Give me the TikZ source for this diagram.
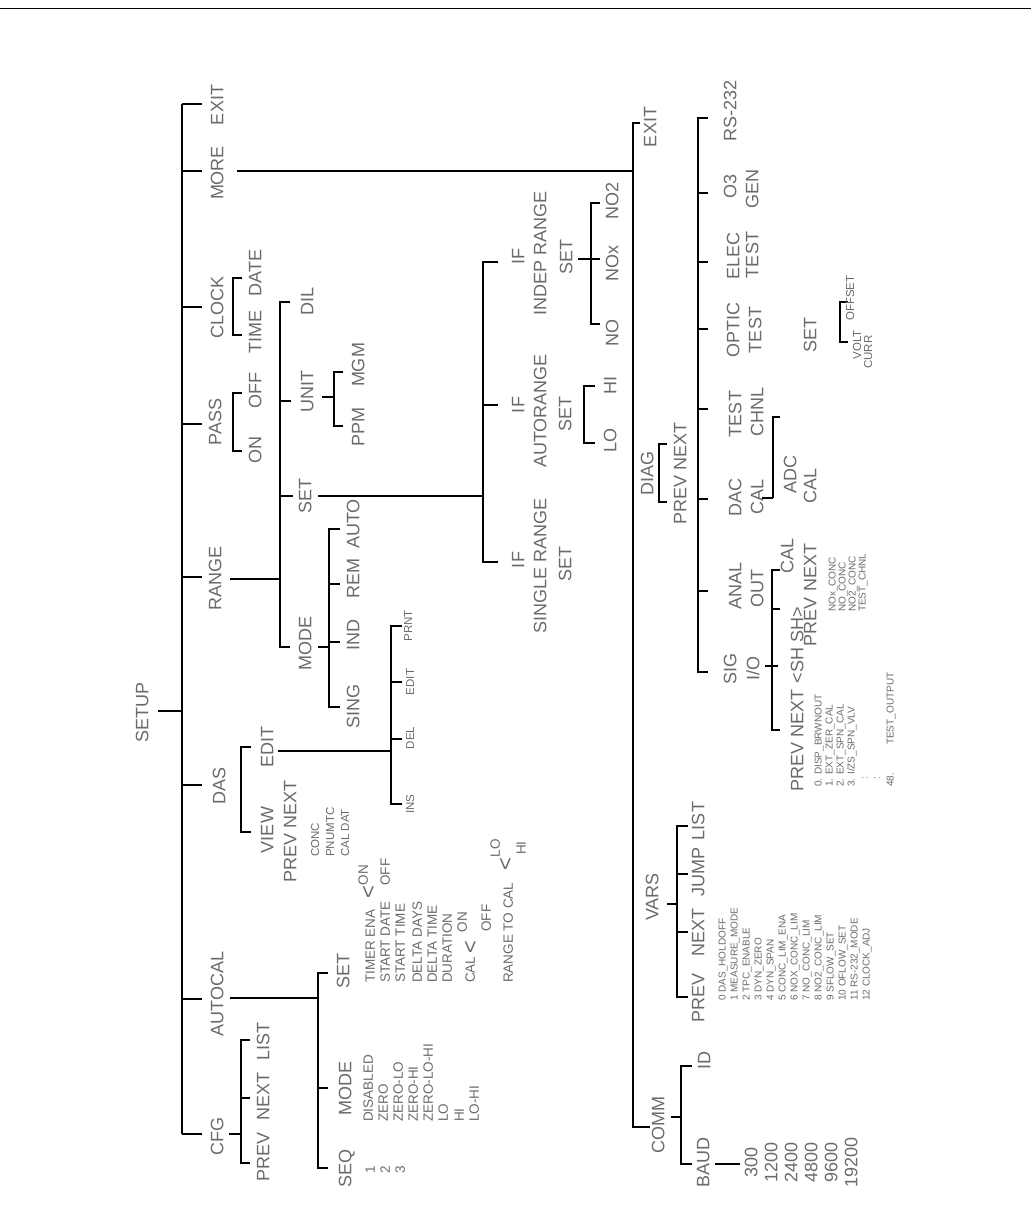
\documentclass[tikz,border=0pt]{standalone}
\usepackage{fontspec}
\setmainfont{Liberation Sans}
\definecolor{tgray}{gray}{0.42}
\begin{document}
\begin{tikzpicture}[x=1pt,y=-1pt,
  lab/.style={rotate=90, inner sep=0pt, text=tgray, font=\fontsize{18}{18}\selectfont, text height=12.9pt, text depth=0pt},
  med/.style={lab, font=\fontsize{13.5}{13.5}\selectfont, text height=9.7pt},
  sml/.style={lab, font=\fontsize{11.5}{11.5}\selectfont, text height=8.2pt},
  tny/.style={lab, font=\fontsize{10}{10}\selectfont, text height=7.2pt},
  chev/.style={lab, font=\fontsize{22}{22}\selectfont, text height=11pt},
  ln/.style={line width=1.3pt, black}]
\useasboundingbox (0,0) rectangle (1031,1225);
\fill[white] (0,0) rectangle (1031,1225);
\draw[line width=0.8pt] (0,8) -- (1031,8);
% ---------------- main trunk
\node[lab] (setup) at (142,712) {SETUP};
\coordinate (ttop) at (182,104);
\coordinate (tbot) at (182,1134);
\draw[ln] (ttop) -- (tbot);
\draw[ln] (158,711) -- (182,711);
\foreach \y in {104,171,307,424,577,785,999,1134} \draw[ln] (182,\y) -- (202,\y);
\node[lab] (exit) at (217,105) {EXIT};
\node[lab] (more) at (217,173) {MORE};
\node[lab] (clock) at (217,307) {CLOCK};
\node[lab] (pass) at (215,422) {PASS};
\node[lab] (range) at (215,578) {RANGE};
\node[lab] (das) at (219,786) {DAS};
\node[lab] (autocal) at (217,994) {AUTOCAL};
\node[lab] (cfg) at (217,1136) {CFG};
% ---------------- CFG
\draw[ln] (229,1134) -- (241,1134);
\draw[ln] (250,1040) -- (241,1040) -- (241,1163) -- (250,1163);
\draw[ln] (241,1098) -- (250,1098);
\node[lab] (cfgprev) at (263,1157) {PREV};
\node[lab] (cfgnext) at (263,1096) {NEXT};
\node[lab] (cfglist) at (263,1041) {LIST};
% ---------------- CLOCK / PASS
\draw[ln] (242,278) -- (233,278) -- (233,335) -- (242,335);
\node[lab] (date) at (255,273) {DATE};
\node[lab] (time) at (255,332) {TIME};
\draw[ln] (242,393) -- (233,393) -- (233,451) -- (242,451);
\node[lab] (off) at (255,391) {OFF};
\node[lab] (on) at (255,450) {ON};
% ---------------- RANGE
\draw[ln] (230,579) -- (280,579);
\draw[ln] (290,302) -- (280,302) -- (280,647) -- (290,647);
\draw[ln] (280,401) -- (291,401);
\draw[ln] (280,496) -- (293,496);
\node[lab] (dil) at (307,301) {DIL};
\node[lab] (unit) at (307,391) {UNIT};
\node[lab] (rset) at (305,496) {SET};
\node[lab] (mode) at (305,643) {MODE};
\draw[ln] (322,397) -- (334,397);
\draw[ln] (343,372) -- (334,372) -- (334,426) -- (343,426);
\node[lab] (mgm) at (358,365) {MGM};
\node[lab] (ppm) at (358,427) {PPM};
\draw[ln] (318,647) -- (329,647);
\draw[ln] (340,529) -- (329,529) -- (329,707) -- (340,707);
\draw[ln] (329,584) -- (340,584);
\draw[ln] (329,642) -- (340,642);
\node[lab] (auto) at (353,524) {AUTO};
\node[lab] (rem) at (353,578) {REM};
\node[lab] (ind) at (353,635) {IND};
\node[lab] (sing) at (353,706) {SING};
\draw[ln] (318,496) -- (483,496);
\draw[ln] (498,262) -- (483,262) -- (483,562) -- (498,562);
\draw[ln] (483,405) -- (498,405);
\node[lab] (if1) at (518,257) {IF};
\node[lab] (indep) at (540,253) {INDEP RANGE};
\node[lab] (set1) at (566,257) {SET};
\node[lab] (if2) at (518,405) {IF};
\node[lab] (autor) at (540,411) {AUTORANGE};
\node[lab] (set2) at (565,414) {SET};
\node[lab] (if3) at (518,560) {IF};
\node[lab] (single) at (540,566) {SINGLE RANGE};
\node[lab] (set3) at (565,564) {SET};
\draw[ln] (578,259) -- (600,259);
\draw[ln] (600,203) -- (591,203) -- (591,324) -- (600,324);
\node[lab] (no2) at (612,201) {NO2};
\node[lab] (nox) at (612,263) {NOx};
\node[lab] (no) at (612,333) {NO};
\draw[ln] (595,386) -- (584,386) -- (584,443) -- (595,443);
\node[lab] (hi) at (610,385) {HI};
\node[lab] (lo) at (610,440) {LO};
% ---------------- DAS
\draw[ln] (251,747) -- (241,747) -- (241,832) -- (251,832);
\node[lab] (edit) at (267,747) {EDIT};
\node[lab] (view) at (267,830) {VIEW};
\node[lab] (dprevnext) at (290,831) {PREV NEXT};
\node[sml,anchor=west] (conc) at (315,857) {CONC};
\node[sml,anchor=west] (pnumtc) at (330,857) {PNUMTC};
\node[sml,anchor=west] (caldat) at (345,857) {CAL DAT};
\draw[ln] (278,751) -- (391,751);
\draw[ln] (402,626) -- (391,626) -- (391,804) -- (402,804);
\draw[ln] (391,682) -- (402,682);
\draw[ln] (391,739) -- (402,739);
\node[sml] (prnt) at (408,626) {PRNT};
\node[sml] (edit2) at (410,682) {EDIT};
\node[sml] (del) at (410,738) {DEL};
\node[sml] (ins) at (410,804) {INS};
% ---------------- AUTOCAL
\draw[ln] (230,998) -- (318,998);
\draw[ln] (328,973) -- (318,973) -- (318,1168) -- (328,1168);
\draw[ln] (318,1088) -- (328,1088);
\node[lab] (aset) at (343,971) {SET};
\node[lab] (amode) at (345,1088) {MODE};
\node[lab] (seq) at (345,1168) {SEQ};
\foreach \x/\t [count=\i] in {370/1,385/2,400/3} \node[med,anchor=west] (sq\i) at (\x,1174) {\t};
\foreach \x/\t [count=\i] in {368/DISABLED,383/ZERO,398/ZERO-LO,413/ZERO-HI,428/ZERO-LO-HI,443/LO,459/HI,474/LO-HI}
  \node[med,anchor=west] (md\i) at (\x,1122) {\t};
\foreach \x/\t [count=\i] in {370/TIMER ENA,385/START DATE,400/START TIME,417/DELTA DAYS,432/DELTA TIME,447/DURATION}
  \node[med,anchor=west] (st\i) at (\x,983) {\t};
\node[chev] (lt1) at (370,892) {<};
\node[med] (son) at (363,875) {ON};
\node[med] (soff) at (385,872) {OFF};
\node[med,anchor=west] (scal) at (470,983) {CAL};
\node[chev] (lt2) at (472,947) {<};
\node[med] (con) at (462,922) {ON};
\node[med] (coff) at (486,918) {OFF};
\node[med,anchor=west] (rtc) at (508,983) {RANGE TO CAL};
\node[chev] (lt3) at (507,864) {<};
\node[med] (rlo) at (495,848) {LO};
\node[med] (rhi) at (521,848) {HI};
% ---------------- MORE
\draw[ln] (237,171) -- (633,171);
\draw[ln] (640,123) -- (633,123) -- (633,1127) -- (650,1127);
\node[lab] (exit2) at (650,127) {EXIT};
% DIAG
\node[lab] (diag) at (647,473) {DIAG};
\draw[ln] (667,444) -- (659,444) -- (659,502) -- (667,502);
\node[lab] (diagpn) at (680,473) {PREV NEXT};
\draw[ln] (708,118) -- (698,118) -- (698,672) -- (708,672);
\foreach \y in {193,262,329,409,499,591} \draw[ln] (698,\y) -- (708,\y);
\node[lab] (rs) at (730,111) {RS-232};
\node[lab] (o3) at (730,186) {O3};
\node[lab] (gen) at (752,189) {GEN};
\node[lab] (elec) at (733,256) {ELEC};
\node[lab] (test1) at (752,255) {TEST};
\node[lab] (optic) at (733,330) {OPTIC};
\node[lab] (test2) at (755,330) {TEST};
\node[lab] (test3) at (735,414) {TEST};
\node[lab] (chnl) at (757,412) {CHNL};
\node[lab] (dac) at (735,497) {DAC};
\node[lab] (cal1) at (757,497) {CAL};
\node[lab] (anal) at (735,586) {ANAL};
\node[lab] (out) at (757,588) {OUT};
\node[lab] (sig) at (730,669) {SIG};
\node[lab] (io) at (753,668) {I/O};
% DAC CAL sub
\draw[ln] (762,498) -- (773,498);
\draw[ln] (780,417) -- (773,417) -- (773,498);
\node[lab] (adc) at (790,474) {ADC};
\node[lab] (cal2) at (787,556) {CAL};
\node[lab] (cprev) at (810,622) {PREV};
\node[lab] (cnext) at (810,567) {NEXT};
\node[lab] (ccal) at (810,486) {CAL};
\node[lab] (cset) at (810,335) {SET};
\draw[ln] (848,302) -- (840,302) -- (840,342) -- (848,342);
\node[sml] (offset) at (850,298) {OFFSET};
\node[sml] (volt) at (857,345) {VOLT};
\node[sml] (curr) at (868,352) {CURR};
\node[tny,anchor=west] (l1) at (832,612) {NOx\_CONC};
\node[tny,anchor=west] (l2) at (842,612) {NO\_CONC};
\node[tny,anchor=west] (l3) at (852,612) {NO2\_CONC};
\node[tny,anchor=west] (l4) at (862,612) {TEST\_CHNL};
% SIG I/O sub
\draw[ln] (765,666) -- (778,666);
\draw[ln] (780,570) -- (772,570) -- (772,730) -- (780,730);
\draw[ln] (772,609) -- (780,609);
\node[lab] (spn) at (797,740) {PREV NEXT};
\node[lab] (ssh) at (797,645) {<SH SH>};
\node[tny,anchor=west] (s0) at (818,787) {0. DISP\_BRWNOUT};
\node[tny,anchor=west] (s1) at (829,787) {1. EXT\_ZER\_CAL};
\node[tny,anchor=west] (s2) at (840,787) {2. EXT\_SPN\_CAL};
\node[tny,anchor=west] (s3) at (851,787) {3. I/ZS\_SPN\_VLV};
\node[tny,anchor=west] (s4) at (864,780) {:};
\node[tny,anchor=west] (s5) at (876,780) {:};
\node[tny,anchor=west] (s48) at (890,787) {48.};
\node[tny,anchor=west] (s48b) at (890,745) {TEST\_OUTPUT};
% VARS
\node[lab] (vars) at (652,897) {VARS};
\draw[ln] (667,904) -- (677,904);
\draw[ln] (688,826) -- (677,826) -- (677,997) -- (688,997);
\draw[ln] (677,874) -- (688,874);
\draw[ln] (677,932) -- (688,932);
\node[lab] (vprev) at (698,998) {PREV};
\node[lab] (vnext) at (698,932) {NEXT};
\node[lab] (jump) at (698,872) {JUMP};
\node[lab] (vlist) at (698,821) {LIST};
\foreach \t [count=\i from 0] in {0 DAS\_HOLDOFF,1 MEASURE\_MODE,2 TPC\_ENABLE,3 DYN\_ZERO,4 DYN\_SPAN,5 CONC\_LIM\_ENA,6 NOX\_CONC\_LIM,7 NO\_CONC\_LIM,8 NO2\_CONC\_LIM,9 SFLOW\_SET,10 OFLOW\_SET,11 RS-232\_MODE,12 CLOCK\_ADJ}
  \node[tny,anchor=west] (v\i) at ({722+12*\i},1001) {\t};
% COMM
\node[lab] (comm) at (658,1125) {COMM};
\draw[ln] (671,1117) -- (681,1117);
\draw[ln] (692,1066) -- (681,1066) -- (681,1164) -- (692,1164);
\node[lab] (id) at (704,1060) {ID};
\node[lab] (baud) at (703,1162) {BAUD};
\draw[ln] (715,1164) -- (740,1164);
\foreach \x/\t [count=\i] in {751/300,771/1200,791/2400,811/4800,831/9600,851/19200}
  \node[lab] (b\i) at (\x,1162) {\t};
\end{tikzpicture}
\end{document}
